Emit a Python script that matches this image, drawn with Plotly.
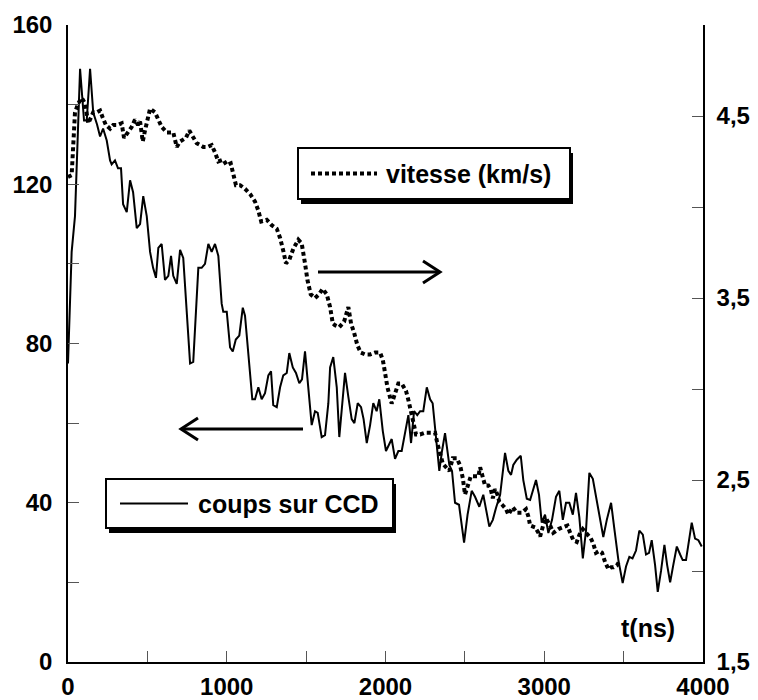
import plotly.graph_objects as go

# ---- data ----
t_coups = [0,23,44,76,101,118,139,159,183,202,
           221,244,265,275,296,315,334,347,370,391,
           410,433,454,474,496,517,536,554,569,590,
           611,632,649,663,685,706,726,748,769,789,
           811,821,842,863,884,905,926,947,968,978,
           1000,1021,1038,1057,1079,1101,1115,1136,1161,1178,
           1199,1220,1241,1262,1279,1293,1315,1336,1356,1378,
           1394,1416,1436,1457,1474,1493,1514,1535,1556,1573,
           1598,1619,1640,1651,1671,1693,1709,1745,1766,1787,
           1804,1825,1846,1862,1882,1903,1923,1944,1961,1983,
           2003,2019,2039,2060,2081,2102,2123,2144,2161,2180,
           2200,2218,2238,2260,2281,2297,2318,2339,2356,2375,
           2402,2419,2438,2463,2495,2517,2543,2564,2591,2616,
           2654,2676,2696,2722,2753,2774,2791,2805,2827,2852,
           2868,2890,2911,2930,2948,2967,2984,3005,3026,3049,
           3074,3095,3117,3137,3158,3180,3200,3221,3243,3263,
           3284,3306,3326,3347,3372,3394,3421,3443,3467,3494,
           3515,3536,3556,3578,3599,3621,3641,3660,3677,3698,
           3715,3736,3757,3774,3793,3813,3835,3856,3872,3893,
           3912,3929,3950,3971,3992]
coups = [75,103,112,149,136,136,149,138,135,132,
         134,131,126,125,126,124,124,115,113,121,
         118,109,110,117,112,103,99,96.5,104,105,
         96,97,102,97,95,103.5,101.5,88,75,75.4,
         92,99,99,100,105,103,105,102,90,88,
         88,79,78,81,82,89,87,78,66,66,
         69,66,67.5,72,73,64.5,64,69,72,72.6,
         77.6,74,72.6,70,71,78,68,59.5,63,62.6,
         56.5,57,65,74,76.6,69,56.5,72.6,66.6,61,
         60,65,64,61,55,59.5,65,63,66,58,
         53,54.5,56,51,53,53,58,62,55,63,
         62,63,63,69,66,65,56.5,48,53,57.5,
         49.5,48,40,39.5,30,37,43,41.5,39,42,
         34,35.7,38.7,42,52.5,48,47,49.5,50.8,51.8,
         45.7,41,40.7,43,45.7,42,35,37,32.4,35.7,
         41.5,43,35.7,40,40,37,42.5,36.4,26,33,
         47.5,46,41.5,36.4,31.4,35.7,40,33,25.6,19.8,
         24,26.4,26,28,33,32,27,27.4,30.6,24.4,
         17.6,23,29.4,24.4,20,24.4,29,27,25.6,25.6,
         30.6,35,31,30.6,29]

t_vitesse = [0,23,44,65,86,107,128,159,181,202,
             219,239,265,285,312,338,353,380,401,422,
             441,454,471,485,500,517,548,569,590,622,
             643,663,685,706,725,743,764,789,811,832,
             852,879,905,926,947,978,1000,1025,1041,1058,
             1084,1115,1148,1178,1199,1217,1252,1283,1315,1336,
             1356,1373,1394,1419,1451,1472,1493,1508,1529,1556,
             1581,1604,1630,1651,1668,1682,1709,1739,1766,1783,
             1802,1823,1844,1871,1903,1934,1966,1983,1997,2012,
             2039,2060,2081,2102,2129,2144,2159,2175,2192,2218,
             2249,2281,2312,2327,2344,2361,2381,2402,2424,2449,
             2470,2487,2501,2517,2537,2564,2585,2596,2611,2627,
             2648,2663,2676,2690,2705,2717,2739,2759,2774,2802,
             2829,2858,2885,2900,2911,2942,2963,2974,2993,3011,
             3037,3057,3089,3120,3146,3163,3183,3205,3222,3243,
             3270,3293,3309,3326,3347,3364,3383,3404,3421,3436,
             3457,3471]
vitesse = [4.165,4.175,4.52,4.57,4.60,4.57,4.46,4.52,4.52,4.53,
           4.49,4.45,4.43,4.45,4.45,4.46,4.38,4.41,4.44,4.48,
           4.45,4.47,4.36,4.42,4.49,4.54,4.52,4.48,4.44,4.41,
           4.41,4.41,4.33,4.36,4.37,4.38,4.42,4.38,4.35,4.34,
           4.33,4.33,4.34,4.30,4.25,4.26,4.23,4.24,4.19,4.12,
           4.12,4.10,4.07,4.03,3.98,3.92,3.93,3.90,3.88,3.83,
           3.76,3.69,3.71,3.77,3.82,3.80,3.69,3.60,3.52,3.50,
           3.52,3.55,3.52,3.45,3.36,3.35,3.34,3.37,3.45,3.36,
           3.31,3.24,3.20,3.19,3.19,3.20,3.20,3.16,3.09,3.01,
           2.92,2.98,3.03,3.03,2.99,2.94,2.87,2.82,2.75,2.75,
           2.76,2.76,2.76,2.70,2.65,2.59,2.57,2.55,2.62,2.62,
           2.58,2.51,2.42,2.47,2.52,2.52,2.52,2.57,2.51,2.47,
           2.47,2.45,2.40,2.45,2.42,2.38,2.36,2.34,2.31,2.35,
           2.32,2.32,2.34,2.30,2.25,2.24,2.21,2.19,2.25,2.29,
           2.25,2.21,2.23,2.24,2.25,2.21,2.17,2.16,2.20,2.23,
           2.20,2.18,2.15,2.10,2.11,2.10,2.05,2.01,2.02,2.02,
           2.03,2.05]

x_ticks = [0, 500, 1000, 1500, 2000, 2500, 3000, 3500, 4000]
x_labels = ["0", "", "1000", "", "2000", "", "3000", "", "4000"]
y_ticks = [0, 20, 40, 60, 80, 100, 120, 140, 160]
y_labels = ["0", "", "40", "", "80", "", "120", "", "160"]
y2_ticks = [1.5, 2.0, 2.5, 3.0, 3.5, 4.0, 4.5, 5.0]
y2_labels = ["1,5", "", "2,5", "", "3,5", "", "4,5", ""]

label_vitesse = "vitesse (km/s)"
label_coups = "coups sur CCD"
label_t = "t(ns)"

# ---- layout geometry (pixels) ----
W, H = 758, 700
L, R, T, B = 68, 703, 25, 662
FONT = "Liberation Sans, Arial, sans-serif"
FS = 24
FS_LEG = 25


def px(xp):
    return (xp - L) / (R - L)


def py(yp):
    return (B - yp) / (B - T)


def bold(labels):
    return ["<b>%s</b>" % s if s else "" for s in labels]


fig = go.Figure()
fig.add_trace(go.Scatter(x=t_coups, y=coups, mode="lines", name=label_coups,
                         line=dict(color="black", width=2), yaxis="y"))
fig.add_trace(go.Scatter(x=t_vitesse, y=vitesse, mode="lines", name=label_vitesse,
                         line=dict(color="black", width=4, dash="4px,3px"), yaxis="y2"))

shapes = []
annotations = []


def legend_box(x0, y0, x1, y1, dash, text, tx, sx0, sx1):
    # shadow
    shapes.append(dict(type="rect", xref="paper", yref="paper",
                       x0=px(x0 + 3), x1=px(x1 + 3), y0=py(y1 + 5), y1=py(y0 + 5),
                       fillcolor="black", line=dict(width=0)))
    shapes.append(dict(type="rect", xref="paper", yref="paper",
                       x0=px(x0), x1=px(x1), y0=py(y1), y1=py(y0),
                       fillcolor="white", line=dict(color="black", width=2)))
    ym = (y0 + y1) / 2
    shapes.append(dict(type="line", xref="paper", yref="paper",
                       x0=px(sx0), x1=px(sx1), y0=py(ym), y1=py(ym),
                       line=dict(color="black", width=4 if dash else 2,
                                 dash="4px,3px" if dash else "solid")))
    annotations.append(dict(xref="paper", yref="paper", x=px(tx), y=py(ym),
                            xanchor="left", yanchor="middle", showarrow=False,
                            text="<b>%s</b>" % text,
                            font=dict(family=FONT, size=FS_LEG, color="black",
                                      weight="bold")))


legend_box(298, 148, 570, 199, True, label_vitesse, 384, 311, 377)
legend_box(106, 479, 393, 528, False, label_coups, 196, 120, 188)


def arrow(x0, x1, y):
    shapes.append(dict(type="line", xref="paper", yref="paper",
                       x0=px(x0), x1=px(x1), y0=py(y), y1=py(y),
                       line=dict(color="black", width=3)))
    d = 17 if x1 > x0 else -17
    path = "M %f,%f L %f,%f L %f,%f" % (px(x1 - d), py(y - 11), px(x1), py(y),
                                        px(x1 - d), py(y + 11))
    shapes.append(dict(type="path", xref="paper", yref="paper", path=path,
                       line=dict(color="black", width=3)))


arrow(318, 440, 272)
arrow(303, 181, 429)

annotations.append(dict(xref="paper", yref="paper", x=px(648), y=py(628),
                        xanchor="center", yanchor="middle", showarrow=False,
                        text="<b>%s</b>" % label_t,
                        font=dict(family=FONT, size=FS_LEG, color="black",
                                  weight="bold")))

tickfont = dict(family=FONT, size=FS, color="black", weight="bold")
common = dict(showgrid=False, zeroline=False, showline=True, linecolor="black",
              linewidth=1.5, ticks="inside", ticklen=11, tickwidth=1,
              tickcolor="#555", tickfont=tickfont, tickmode="array",
              automargin=False)

fig.update_layout(
    width=W, height=H,
    margin=dict(l=L, r=W - R, t=T, b=H - B, autoexpand=False),
    paper_bgcolor="white", plot_bgcolor="white",
    showlegend=False,
    font=dict(family=FONT, size=FS, color="black"),
    xaxis=dict(range=[0, 4000], tickvals=x_ticks, ticktext=bold(x_labels),
               ticklabelstandoff=2, **common),
    yaxis=dict(range=[0, 160], tickvals=y_ticks, ticktext=bold(y_labels),
               ticklabelstandoff=9, **common),
    yaxis2=dict(range=[1.5, 5.0], tickvals=y2_ticks, ticktext=bold(y2_labels),
                overlaying="y", side="right", ticklabelstandoff=7, **common),
    shapes=shapes, annotations=annotations,
)

fig.write_html("out.html",
               config={"displayModeBar": False},
               post_script="document.body.style.margin='0px';"
                           "document.body.style.overflow='hidden';")
